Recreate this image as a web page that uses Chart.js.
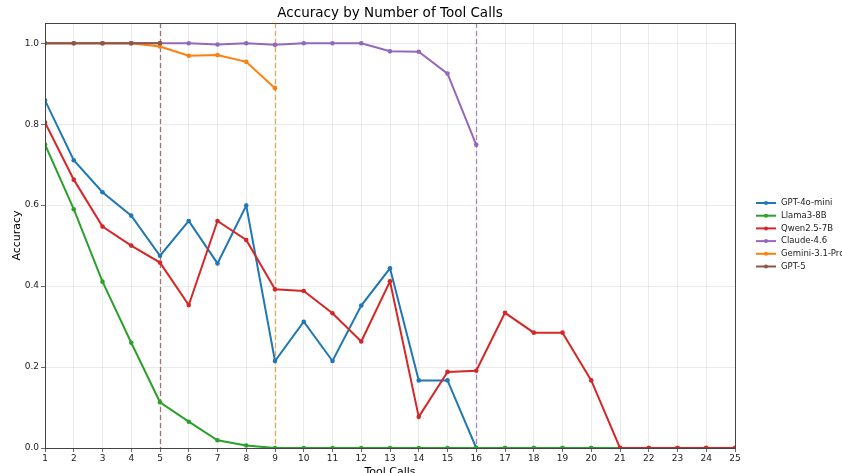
<!DOCTYPE html>
<html lang="en">
<head>
    <meta charset="UTF-8">
    <title>Accuracy by Number of Tool Calls</title>
    <style>
        body {
            margin: 0;
            background: white;
        }
        #wrap {
            width: 842px;
            height: 473px;
        }
    </style>
    <script src="https://cdn.jsdelivr.net/npm/chart.js"></script>
</head>
<body>
    <div id="wrap"><canvas id="accChart" width="842" height="473"></canvas></div>

    <script>
        // tool call counts (x axis)
        const toolCalls = [1, 2, 3, 4, 5, 6, 7, 8, 9, 10, 11, 12, 13, 14, 15, 16, 17, 18, 19, 20, 21, 22, 23, 24, 25];
        const yTicks = [0, 0.2, 0.4, 0.6, 0.8, 1.0];

        const gpt4oMini = [0.859, 0.711, 0.632, 0.574, 0.475, 0.561, 0.456, 0.599, 0.215, 0.312, 0.215, 0.352, 0.444, 0.167, 0.167, 0, 0, 0, 0, 0, 0, 0, 0, 0, 0];
        const llama3 = [0.750, 0.590, 0.411, 0.260, 0.113, 0.065, 0.019, 0.006, 0, 0, 0, 0, 0, 0, 0, 0, 0, 0, 0, 0, 0, 0, 0, 0, 0];
        const qwen = [0.804, 0.663, 0.547, 0.500, 0.458, 0.353, 0.561, 0.514, 0.392, 0.388, 0.333, 0.263, 0.412, 0.077, 0.188, 0.191, 0.334, 0.285, 0.285, 0.167, 0, 0, 0, 0, 0];
        const claude = [1.0, 1.0, 1.0, 1.0, 1.0, 1.0, 0.997, 1.0, 0.996, 1.0, 1.0, 1.0, 0.980, 0.979, 0.925, 0.749];
        const gemini = [1.0, 1.0, 1.0, 1.0, 0.992, 0.969, 0.971, 0.954, 0.889];
        const gpt5 = [1.0, 1.0, 1.0, 1.0, 1.0];

        const models = [
            { label: 'GPT-4o-mini', values: gpt4oMini, color: '#1f77b4' },
            { label: 'Llama3-8B', values: llama3, color: '#2ca02c' },
            { label: 'Qwen2.5-7B', values: qwen, color: '#d62728' },
            { label: 'Claude-4.6', values: claude, color: '#9467bd' },
            { label: 'Gemini-3.1-Pro', values: gemini, color: '#ff7f0e' },
            { label: 'GPT-5', values: gpt5, color: '#8c564b' },
        ];

        // dashed markers where a model's run stops
        const cutoffs = [
            { at: 5, color: 'rgba(140, 86, 75, 0.8)' },
            { at: 9, color: 'rgba(255, 127, 14, 0.7)' },
            { at: 16, color: 'rgba(148, 103, 189, 0.8)' },
        ];

        const FONT = 'DejaVu Sans, sans-serif';

        const datasets = models.map((m, i) => ({
            label: m.label,
            data: m.values.map((v, j) => ({ x: toolCalls[j], y: v })),
            borderColor: m.color,
            backgroundColor: m.color,
            borderWidth: 2,
            pointRadius: 2.3,
            pointBorderWidth: 0,
            pointHoverRadius: 2.3,
            tension: 0,
            fill: false,
            order: models.length - i, // later series on top, like matplotlib
        }));

        const decorPlugin = {
            id: 'decor',
            beforeDatasetsDraw(chart) {
                const { ctx, chartArea: a, scales: { x } } = chart;
                ctx.save();
                ctx.lineWidth = 1.3;
                ctx.setLineDash([5, 3]);
                cutoffs.forEach(c => {
                    const px = Math.round(x.getPixelForValue(c.at)) + 0.5;
                    ctx.strokeStyle = c.color;
                    ctx.beginPath();
                    ctx.moveTo(px, a.top);
                    ctx.lineTo(px, a.bottom);
                    ctx.stroke();
                });
                ctx.restore();
            },
            afterDraw(chart) {
                const { ctx, chartArea: a } = chart;
                ctx.save();
                // box round the axes
                ctx.strokeStyle = '#444';
                ctx.lineWidth = 1;
                ctx.strokeRect(a.left + 0.5, a.top + 0.5, a.right - a.left, a.bottom - a.top);

                // title
                ctx.fillStyle = '#000';
                ctx.font = '13.5px ' + FONT;
                ctx.textAlign = 'center';
                ctx.textBaseline = 'middle';
                ctx.fillText('Accuracy by Number of Tool Calls', (a.left + a.right) / 2, 13);

                // legend
                ctx.font = '8.5px ' + FONT;
                ctx.textAlign = 'left';
                models.forEach((m, i) => {
                    const y = 203 + i * 12.7;
                    ctx.strokeStyle = m.color;
                    ctx.lineWidth = 2;
                    ctx.beginPath();
                    ctx.moveTo(756, y);
                    ctx.lineTo(776, y);
                    ctx.stroke();
                    ctx.fillStyle = m.color;
                    ctx.beginPath();
                    ctx.arc(766, y, 2, 0, Math.PI * 2);
                    ctx.fill();
                    ctx.fillStyle = '#222';
                    ctx.fillText(m.label, 781, y);
                });
                ctx.restore();
            },
        };

        const ctx = document.getElementById('accChart').getContext('2d');
        new Chart(ctx, {
            type: 'line',
            data: { datasets },
            options: {
                responsive: false,
                animation: false,
                layout: { padding: { left: 0, right: 107, top: 23, bottom: 0 } },
                plugins: {
                    legend: { display: false },
                    title: { display: false },
                    tooltip: { enabled: false },
                },
                scales: {
                    x: {
                        type: 'linear',
                        min: 1,
                        max: 25,
                        afterBuildTicks: s => { s.ticks = toolCalls.map(v => ({ value: v })); },
                        afterFit: s => { s.height = 25; },
                        border: { display: false },
                        grid: {
                            color: 'rgba(0,0,0,0.1)',
                            borderDash: [2, 2],
                            lineWidth: 0.8,
                            tickColor: '#444',
                            tickLength: 4,
                            tickBorderDash: [],
                        },
                        ticks: {
                            color: '#222',
                            font: { family: FONT, size: 9 },
                            padding: 1,
                            maxRotation: 0,
                            autoSkip: false,
                            callback: v => String(v),
                        },
                        title: {
                            display: true,
                            text: 'Tool Calls',
                            color: '#000',
                            font: { family: FONT, size: 11 },
                            padding: { top: 0, bottom: -6 },
                        },
                    },
                    y: {
                        min: 0,
                        max: 1.05,
                        afterBuildTicks: s => { s.ticks = yTicks.map(v => ({ value: v })); },
                        afterFit: s => { s.width = 45; },
                        border: { display: false },
                        grid: {
                            color: 'rgba(0,0,0,0.1)',
                            borderDash: [2, 2],
                            lineWidth: 0.8,
                            tickColor: '#444',
                            tickLength: 4,
                            tickBorderDash: [],
                        },
                        ticks: {
                            color: '#222',
                            font: { family: FONT, size: 9 },
                            padding: 2,
                            callback: v => Number(v).toFixed(1),
                        },
                        title: {
                            display: true,
                            text: 'Accuracy',
                            color: '#000',
                            font: { family: FONT, size: 11 },
                            padding: { top: 11, bottom: 0 },
                        },
                    },
                },
            },
            plugins: [decorPlugin],
        });
    </script>
</body>
</html>
